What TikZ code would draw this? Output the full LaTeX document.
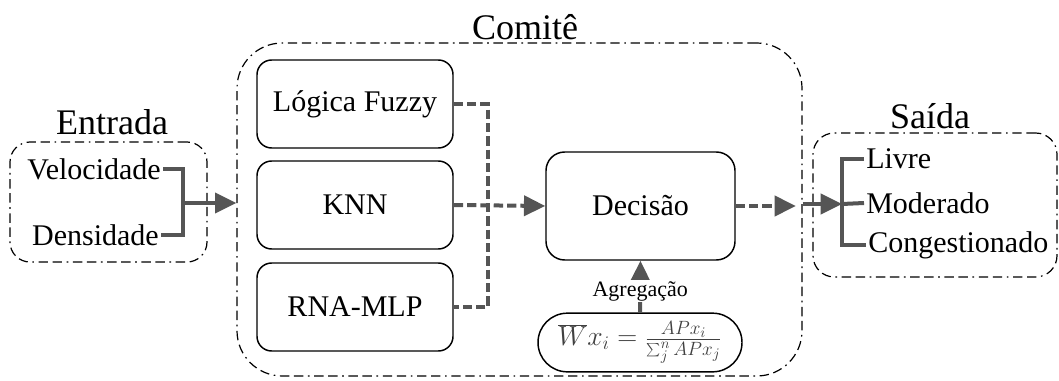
\documentclass[tikz,border=0pt]{standalone}
\usepackage{fontspec}
\setmainfont{Liberation Serif}
\usetikzlibrary{arrows.meta}
\definecolor{lc}{HTML}{555555}
\tikzset{
 box/.style={draw, line width=1.1pt, rounded corners=11pt, minimum width=147pt, minimum height=66pt, font=\fontsize{22.5}{26}\selectfont},
 grp/.style={draw, line width=0.9pt, dash pattern=on 7pt off 3.5pt on 7pt off 3.5pt on 1.2pt off 3.5pt},
 ttl/.style={font=\fontsize{27}{30}\selectfont, anchor=base, inner sep=0pt},
 lbl/.style={font=\fontsize{22.5}{26}\selectfont, inner sep=1.5pt},
 con/.style={draw=lc, line width=3pt},
 dcon/.style={con, dash pattern=on 7pt off 3pt},
 tip/.style={-{Triangle[length=16pt,width=15pt,fill=lc]}},
 agg/.style={font=\fontsize{16.5}{18}\selectfont, fill=white, inner sep=1pt}
}
\begin{document}
\begin{tikzpicture}[x=0.75pt,y=-0.75pt]
\useasboundingbox (0,0) rectangle (1059,381);
% groups
\node[grp, rounded corners=34pt, minimum width=423.75pt, minimum height=249.75pt] (comite) at (519.5,209.5) {};
\node[grp, rounded corners=15pt, minimum width=147.75pt, minimum height=90pt] (entrada) at (108.5,202) {};
\node[grp, rounded corners=16pt, minimum width=183pt, minimum height=108pt] (saida) at (935,205) {};
\node[ttl] (tcom) at (525,40) {Comitê};
\node[ttl] (tent) at (112,135) {Entrada};
\node[ttl] (tsai) at (930,129) {Saída};
% inputs
\node[lbl, anchor=east] (vel) at (163,169) {Velocidade};
\node[lbl, anchor=east] (den) at (161,235) {Densidade};
\coordinate (eb) at (183,203);
% committee members
\node[box] (fuzzy) at (355,104) {Lógica Fuzzy};
\node[box] (knn) at (355,205) {KNN};
\node[box] (mlp) at (355,307) {RNA-MLP};
\node[box, rounded corners=14pt, minimum width=141.75pt, minimum height=81pt] (dec) at (640.5,206) {Decisão};
\node[draw, line width=1.1pt, rounded corners=22pt, minimum width=153pt, minimum height=44pt, inner sep=1pt, text=black!75] (form) at (640,342.5) {\fontsize{21}{23}\selectfont $\overline{W}x_i = \frac{APx_i}{\sum_j^n APx_j}$};
\coordinate (bus) at (488,205);
% outputs
\node[lbl, anchor=west] (livre) at (864,159) {Livre};
\node[lbl, anchor=west] (mod) at (864,203) {Moderado};
\node[lbl, anchor=west] (cong) at (866,245) {Congestionado};
\coordinate (sb) at (842,204);
% connectors
\draw[con] (vel.east) -| (eb) |- (den.east);
\draw[con, tip] (eb) -- (eb -| comite.west);
\draw[dcon] (fuzzy.east) -| (bus) |- (mlp.east);
\draw[dcon, tip] (knn.east) -- (dec.west);
\draw[dcon, tip, shorten >=5pt] (dec.east) -- (dec.east -| comite.east);
\draw[con] (livre.west) -| (sb) |- (cong.west);
\draw[con] (sb) -- (mod.west);
\draw[con, tip] (sb -| comite.east) -- (sb);
\draw[con, tip] (form.north) -- node[agg, pos=0.41] {Agregação} (dec.south);
\end{tikzpicture}
\end{document}
